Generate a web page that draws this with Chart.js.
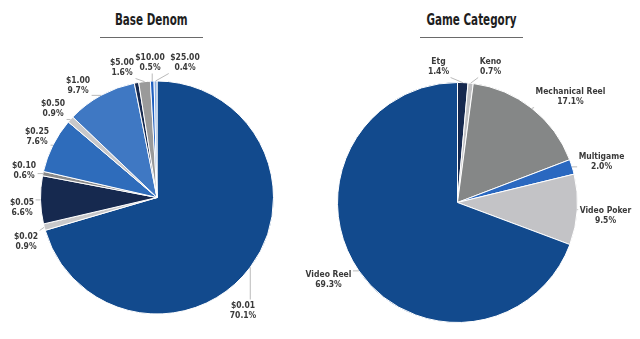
<!DOCTYPE html>
<html>
<head>
<meta charset="utf-8">
<script src="https://cdn.jsdelivr.net/npm/chart.js@4.4.0/dist/chart.umd.min.js"></script>
<style>
  body { margin: 0; background: #fff; }
  #wrap { position: relative; width: 640px; height: 339px; overflow: hidden; }
  canvas { position: absolute; top: 0; }
  .ttl {
    position: absolute; top: 11px; width: 103px; height: 26px;
    text-align: center; border-bottom: 1px solid #6a6a6a; white-space: nowrap;
  }
  .ttl span {
    display: inline-block; transform: scaleX(0.77); transform-origin: 50% 50%;
    font: bold 15px "DejaVu Sans Condensed", "Liberation Sans", sans-serif;
    color: #1e1e1e; margin: 0 -20px;
  }
</style>
</head>
<body>
<div id="wrap">
  <div class="ttl" style="left:100px"><span>Base Denom</span></div>
  <div class="ttl" style="left:420px"><span>Game Category</span></div>
  <canvas id="denomChart" width="320" height="339" style="left:0"></canvas>
  <canvas id="gameChart" width="360" height="339" style="left:280px"></canvas>
</div>
<script>
// data (clockwise from 12 o'clock)
const denomLabels = ['$0.01', '$0.02', '$0.05', '$0.10', '$0.25', '$0.50', '$1.00', '', '$5.00', '$10.00', '$25.00'];
const denomValues = [70.1, 0.9, 6.6, 0.6, 7.6, 0.9, 9.7, 0.6, 1.6, 0.5, 0.4];

const gameLabels = ['Etg', 'Keno', 'Mechanical Reel', 'Multigame', 'Video Poker', 'Video Reel'];
const gameValues = [1.4, 0.7, 17.1, 2.0, 9.5, 69.3];

const denomColors = ['#124a8d', '#c8c8ca', '#16294f', '#8a8a8a', '#2e6cbb', '#c8c8ca', '#3f78c3', '#16294f', '#9a9a9a', '#1f5fbf', '#8fb2e2'];
const gameColors = ['#16294f', '#c0c0c2', '#858787', '#2a68c0', '#c3c3c6', '#124a8d'];

// where each data label sits, relative to the pie centre (null = no label)
const denomSpots = [[86, 113], [-131, 44], [-135, 10], [-133, -27], [-120, -61], [-104, -89], [-79, -112], null, [-35, -130], [-7, -135], [28, -135]];
const gameSpots = [[-19, -136], [33, -136], [113, -106], [144, -41], [148, 13], [-129, 77]];

const labelFont = 'bold 8.5px "DejaVu Sans Condensed", "Liberation Sans", sans-serif';

const calloutPlugin = {
    id: 'callouts',
    afterDatasetsDraw(chart, args, opts) {
        const ctx = chart.ctx;
        const meta = chart.getDatasetMeta(0);
        const labels = chart.data.labels;
        const values = chart.data.datasets[0].data;
        ctx.save();
        ctx.font = labelFont;
        meta.data.forEach((arc, i) => {
            const spot = opts.spots[i];
            if (!spot) return;
            const p = arc.getProps(['x', 'y', 'startAngle', 'endAngle', 'outerRadius'], true);
            const mid = (p.startAngle + p.endAngle) / 2;
            const ex = p.x + Math.cos(mid) * p.outerRadius;
            const ey = p.y + Math.sin(mid) * p.outerRadius;
            const cx = p.x + spot[0];
            const cy = p.y + spot[1];
            const line1 = labels[i];
            const line2 = values[i].toFixed(1) + '%';
            const hw = Math.max(ctx.measureText(line1).width, ctx.measureText(line2).width) / 2 + 1.5;
            const hh = 11;
            const lx = Math.min(Math.max(ex, cx - hw), cx + hw);
            const ly = Math.min(Math.max(ey, cy - hh), cy + hh);
            ctx.strokeStyle = '#a8a8a8';
            ctx.lineWidth = 0.8;
            ctx.beginPath();
            ctx.moveTo(ex, ey);
            ctx.lineTo(lx, ly);
            ctx.stroke();
            ctx.fillStyle = '#3a3a3a';
            ctx.textAlign = 'center';
            ctx.textBaseline = 'middle';
            ctx.fillText(line1, cx, cy - 5);
            ctx.fillText(line2, cx, cy + 5.5);
        });
        ctx.restore();
    }
};

const makePie = (canvasId, labels, values, colors, spots, padding) => {
    const data = {
        labels: labels,
        datasets: [{
            data: values,
            backgroundColor: colors,
            borderColor: '#ffffff',
            borderWidth: 1,
        }]
    };
    const config = {
        type: 'pie',
        data: data,
        plugins: [calloutPlugin],
        options: {
            responsive: false,
            animation: false,
            layout: { padding: padding },
            plugins: {
                legend: { display: false },
                tooltip: { enabled: false },
                callouts: { spots: spots }
            }
        }
    };
    return new Chart(document.getElementById(canvasId), config);
}

makePie('denomChart', denomLabels, denomValues, denomColors, denomSpots, { left: 40, right: 46, top: 80, bottom: 24 });
// right pie: canvas starts at x=280 so the left-hand label fits
makePie('gameChart', gameLabels, gameValues, gameColors, gameSpots, { left: 57, right: 62, top: 82, bottom: 16 });
</script>
</body>
</html>
